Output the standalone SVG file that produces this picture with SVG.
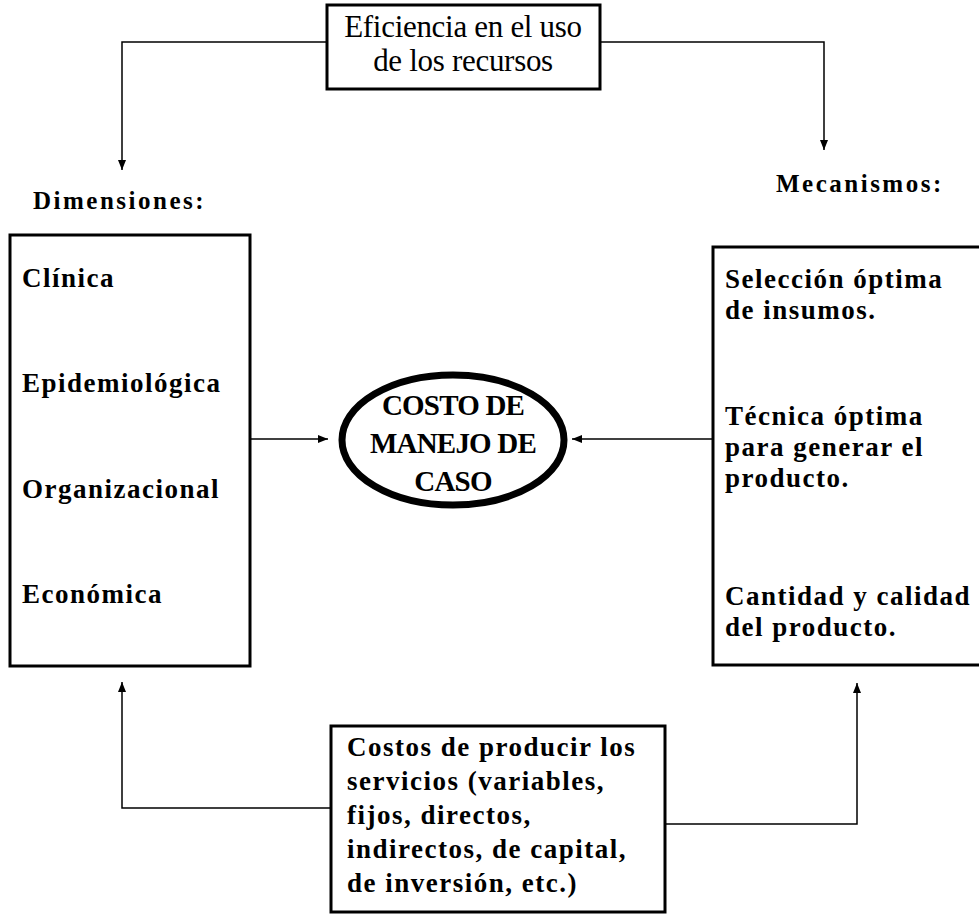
<svg xmlns="http://www.w3.org/2000/svg" width="979" height="919" viewBox="0 0 979 919">
<style>
.box{fill:none;stroke:#000;stroke-width:3}
.conn{fill:none;stroke:#000;stroke-width:1.5}
.t{font-family:"Liberation Serif","Times New Roman",serif;fill:#000}
.reg{font-size:31px;letter-spacing:-0.3px}
.b{font-weight:bold;font-size:27px;letter-spacing:1.5px}
.rb{font-weight:bold;font-size:27px;letter-spacing:1.5px}
.hd{font-weight:bold;font-size:25px;letter-spacing:2.5px}
.el{font-weight:bold;font-size:29px;letter-spacing:-0.8px}
</style>
<defs>
<marker id="ah" markerUnits="userSpaceOnUse" markerWidth="12" markerHeight="10" refX="10" refY="5" orient="auto">
<path d="M0,1 L10,5 L0,9 Z" fill="#000"/>
</marker>
</defs>
<rect width="979" height="919" fill="#fff"/>
<g id="connectors">
<polyline class="conn" points="327,42 122,42 122,170" marker-end="url(#ah)"/>
<polyline class="conn" points="600,42 824,42 824,150" marker-end="url(#ah)"/>
<line class="conn" x1="250" y1="439" x2="328" y2="439" marker-end="url(#ah)"/>
<line class="conn" x1="713" y1="439" x2="572" y2="439" marker-end="url(#ah)"/>
<polyline class="conn" points="331,808 122,808 122,682" marker-end="url(#ah)"/>
<polyline class="conn" points="665,824 857,824 857,683" marker-end="url(#ah)"/>
</g>
<g id="eficiencia">
<rect class="box" x="327" y="5" width="273" height="84"/>
<text class="t reg" x="463" y="37" text-anchor="middle">Eficiencia en el uso</text>
<text class="t reg" x="463" y="71" text-anchor="middle">de los recursos</text>
</g>
<g id="dimensiones-label">
<text class="t hd" x="33" y="209">Dimensiones:</text>
</g>
<g id="mecanismos-label">
<text class="t hd" x="776" y="192">Mecanismos:</text>
</g>
<g id="dimensiones">
<rect class="box" x="10" y="235" width="240" height="431"/>
<text class="t b" x="22" y="287">Clínica</text>
<text class="t b" x="22" y="392">Epidemiológica</text>
<text class="t b" x="22" y="498">Organizacional</text>
<text class="t b" x="22" y="603">Económica</text>
</g>
<g id="costo">
<ellipse cx="453" cy="440" rx="111" ry="65" fill="none" stroke="#000" stroke-width="7"/>
<text class="t el" x="453" y="415" text-anchor="middle">COSTO DE</text>
<text class="t el" x="453" y="453" text-anchor="middle">MANEJO DE</text>
<text class="t el" x="453" y="491" text-anchor="middle">CASO</text>
</g>
<g id="mecanismos">
<rect class="box" x="713" y="247" width="280" height="418"/>
<text class="t rb" x="725" y="288">Selección óptima</text>
<text class="t rb" x="725" y="319">de insumos.</text>
<text class="t rb" x="725" y="425">Técnica óptima</text>
<text class="t rb" x="725" y="456">para generar el</text>
<text class="t rb" x="725" y="487">producto.</text>
<text class="t rb" x="725" y="605">Cantidad y calidad</text>
<text class="t rb" x="725" y="636">del producto.</text>
</g>
<g id="costos">
<rect class="box" x="331" y="726" width="334" height="186"/>
<text class="t b" x="347" y="756">Costos de producir los</text>
<text class="t b" x="347" y="790">servicios (variables,</text>
<text class="t b" x="347" y="824">fijos, directos,</text>
<text class="t b" x="347" y="858">indirectos, de capital,</text>
<text class="t b" x="347" y="892">de inversión, etc.)</text>
</g>
</svg>
